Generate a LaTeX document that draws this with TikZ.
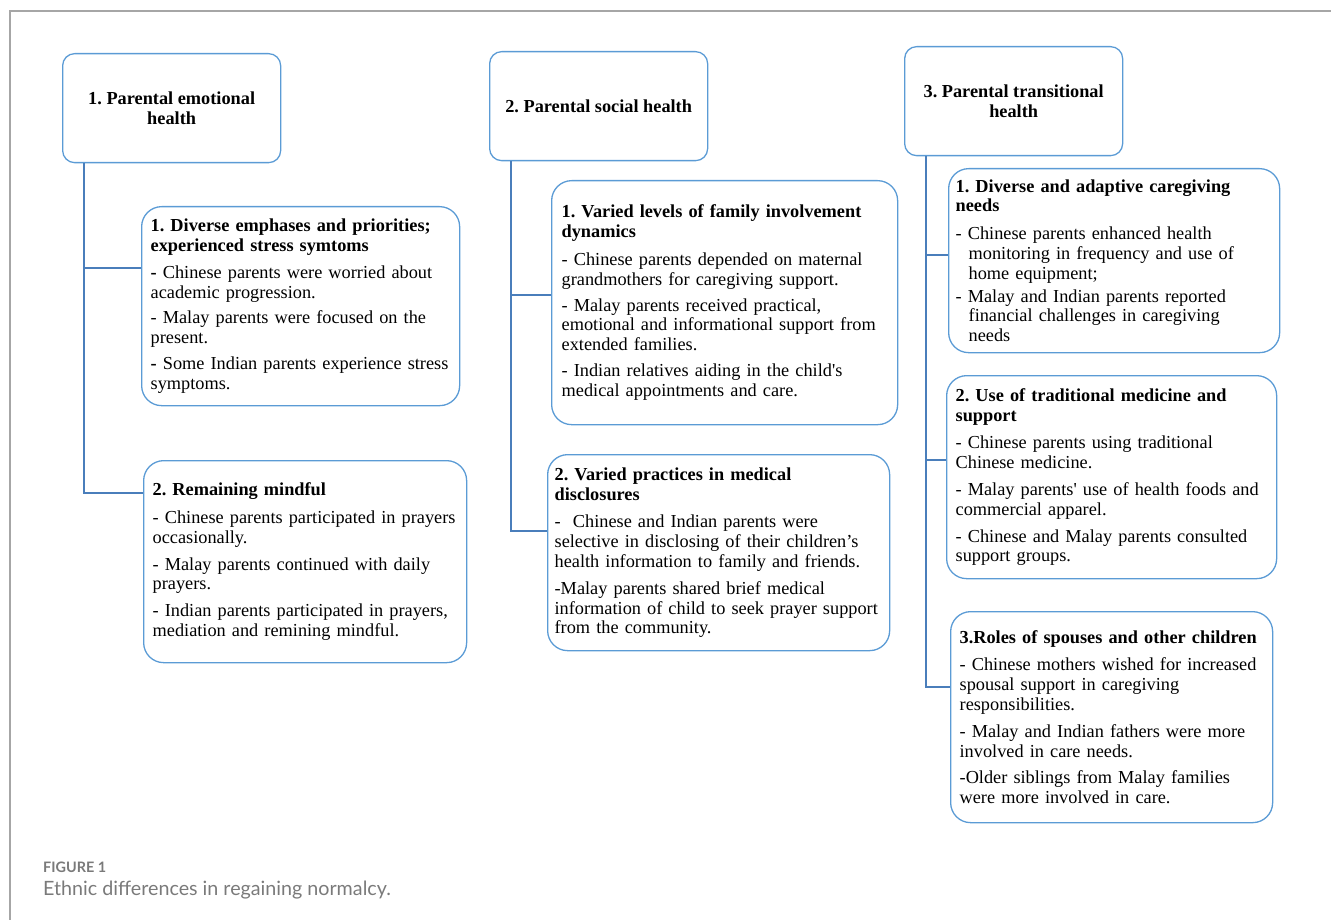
\documentclass[tikz,border=0pt]{standalone}
\usepackage{fontspec}
\setmainfont{Liberation Serif}
\setsansfont{Lato}
\usetikzlibrary{positioning}
\definecolor{boxblue}{HTML}{5B9BD5}
\definecolor{lineblue}{HTML}{4A7EBB}
\definecolor{framegray}{HTML}{A6A6A6}
\definecolor{capgray}{HTML}{7A7A7A}
\frenchspacing

\begin{document}
\begin{tikzpicture}[x=1pt,y=-1pt]
 \tikzset{
  theme/.style={draw=boxblue, line width=1.3pt, rounded corners=12pt, anchor=north west,
                align=center, inner sep=0pt, minimum width=218pt, minimum height=109pt,
                font=\fontsize{18.3}{19.5}\selectfont\bfseries},
  sub/.style={draw=boxblue, line width=1.3pt, rounded corners=20pt, anchor=north west,
              align=left, inner xsep=9pt, inner ysep=0pt,
              font=\fontsize{18.3}{19.8}\selectfont},
  link/.style={draw=lineblue, line width=1.3pt}
 }
 \def\hang{\hspace*{13pt}}

 \useasboundingbox (0,0) rectangle (1331,920);
 \draw [framegray, line width=1.5pt] (10,920) -- (10,11) -- (1331,11);

 % themes
 \node [theme] (emo) at (62,53) {1. Parental emotional\\health};
 \node [theme] (soc) at (489,51) {2. Parental social health};
 \node [theme] (tra) at (904,46) {3. Parental transitional\\health};

 % sub-themes
 \node [sub, text width=300pt, minimum height=199pt] (emo1) at (141,206) {%
  \textbf{1. Diverse emphases and priorities;}\\
  \textbf{experienced stress symtoms}\\[7pt]
  \textbf{-} Chinese parents were worried about\\
  academic progression.\\[6pt]
  - Malay parents were focused on the\\
  present.\\[6pt]
  \textbf{-} Some Indian parents experience stress\\
  symptoms.};
 \node [sub, text width=305pt, minimum height=202pt] (emo2) at (143,460) {%
  \textbf{2. Remaining mindful}\\[8pt]
  - Chinese parents participated in prayers\\
  occasionally.\\[7pt]
  - Malay parents continued with daily\\
  prayers.\\[7pt]
  - Indian parents participated in prayers,\\
  mediation and remining mindful.};

 \node [sub, text width=326pt, minimum height=244pt, inner xsep=10pt] (soc1) at (551,180) {%
  \textbf{1. Varied levels of family involvement}\\
  \textbf{dynamics}\\[8pt]
  - Chinese parents depended on maternal\\
  grandmothers for caregiving support.\\[6pt]
  - Malay parents received practical,\\
  emotional and informational support from\\
  extended families.\\[6pt]
  - Indian relatives aiding in the child\textquotesingle s\\
  medical appointments and care.};
 \node [sub, text width=328pt, minimum height=196pt, inner xsep=7pt] (soc2) at (547,454) {%
  \textbf{2. Varied practices in medical}\\
  \textbf{disclosures}\\[8pt]
  - \ Chinese and Indian parents were\\
  selective in disclosing of their children’s\\
  health information to family and friends.\\[7pt]
  -Malay parents shared brief medical\\
  information of child to seek prayer support\\
  from the community.};

 \node [sub, text width=317pt, minimum height=184pt, inner xsep=7pt] (tra1) at (948,168) {%
  \textbf{1. Diverse and adaptive caregiving}\\
  \textbf{needs}\\[8pt]
  - Chinese parents enhanced health\\
  \hang monitoring in frequency and use of\\
  \hang home equipment;\\[3pt]
  - Malay and Indian parents reported\\
  \hang financial challenges in caregiving\\
  \hang needs};
 \node [sub, text width=312pt, minimum height=203pt] (tra2) at (946,375) {%
  \textbf{2. Use of traditional medicine and}\\
  \textbf{support}\\[8pt]
  - Chinese parents using traditional\\
  Chinese medicine.\\[7pt]
  - Malay parents\textquotesingle{} use of health foods and\\
  commercial apparel.\\[7pt]
  - Chinese and Malay parents consulted\\
  support groups.};
 \node [sub, text width=304pt, minimum height=211pt] (tra3) at (950,611) {%
  \textbf{3.Roles of spouses and other children}\\[8pt]
  - Chinese mothers wished for increased\\
  spousal support in caregiving\\
  responsibilities.\\[7pt]
  - Malay and Indian fathers were more\\
  involved in care needs.\\[7pt]
  -Older siblings from Malay families\\
  were more involved in care.};

 % branches
 \foreach \src/\dst/\dy in {emo/emo1/62, emo/emo2/33, soc/soc1/115, soc/soc2/77,
                            tra/tra1/87, tra/tra2/85, tra/tra3/76}
  { \draw [link] ([xshift=22pt]\src.south west) |- ([yshift=-\dy pt]\dst.north west); }

 % caption
 \node [anchor=base west, inner sep=0pt, text=capgray, font=\sffamily\bfseries\fontsize{14.4}{16}\selectfont] (fig) at (43,872) {FIGURE 1};
 \node [anchor=base west, inner sep=0pt, text=capgray, font=\sffamily\fontsize{19.7}{23}\selectfont] (cap) at (43,895) {Ethnic differences in regaining normalcy.};
\end{tikzpicture}
\end{document}
